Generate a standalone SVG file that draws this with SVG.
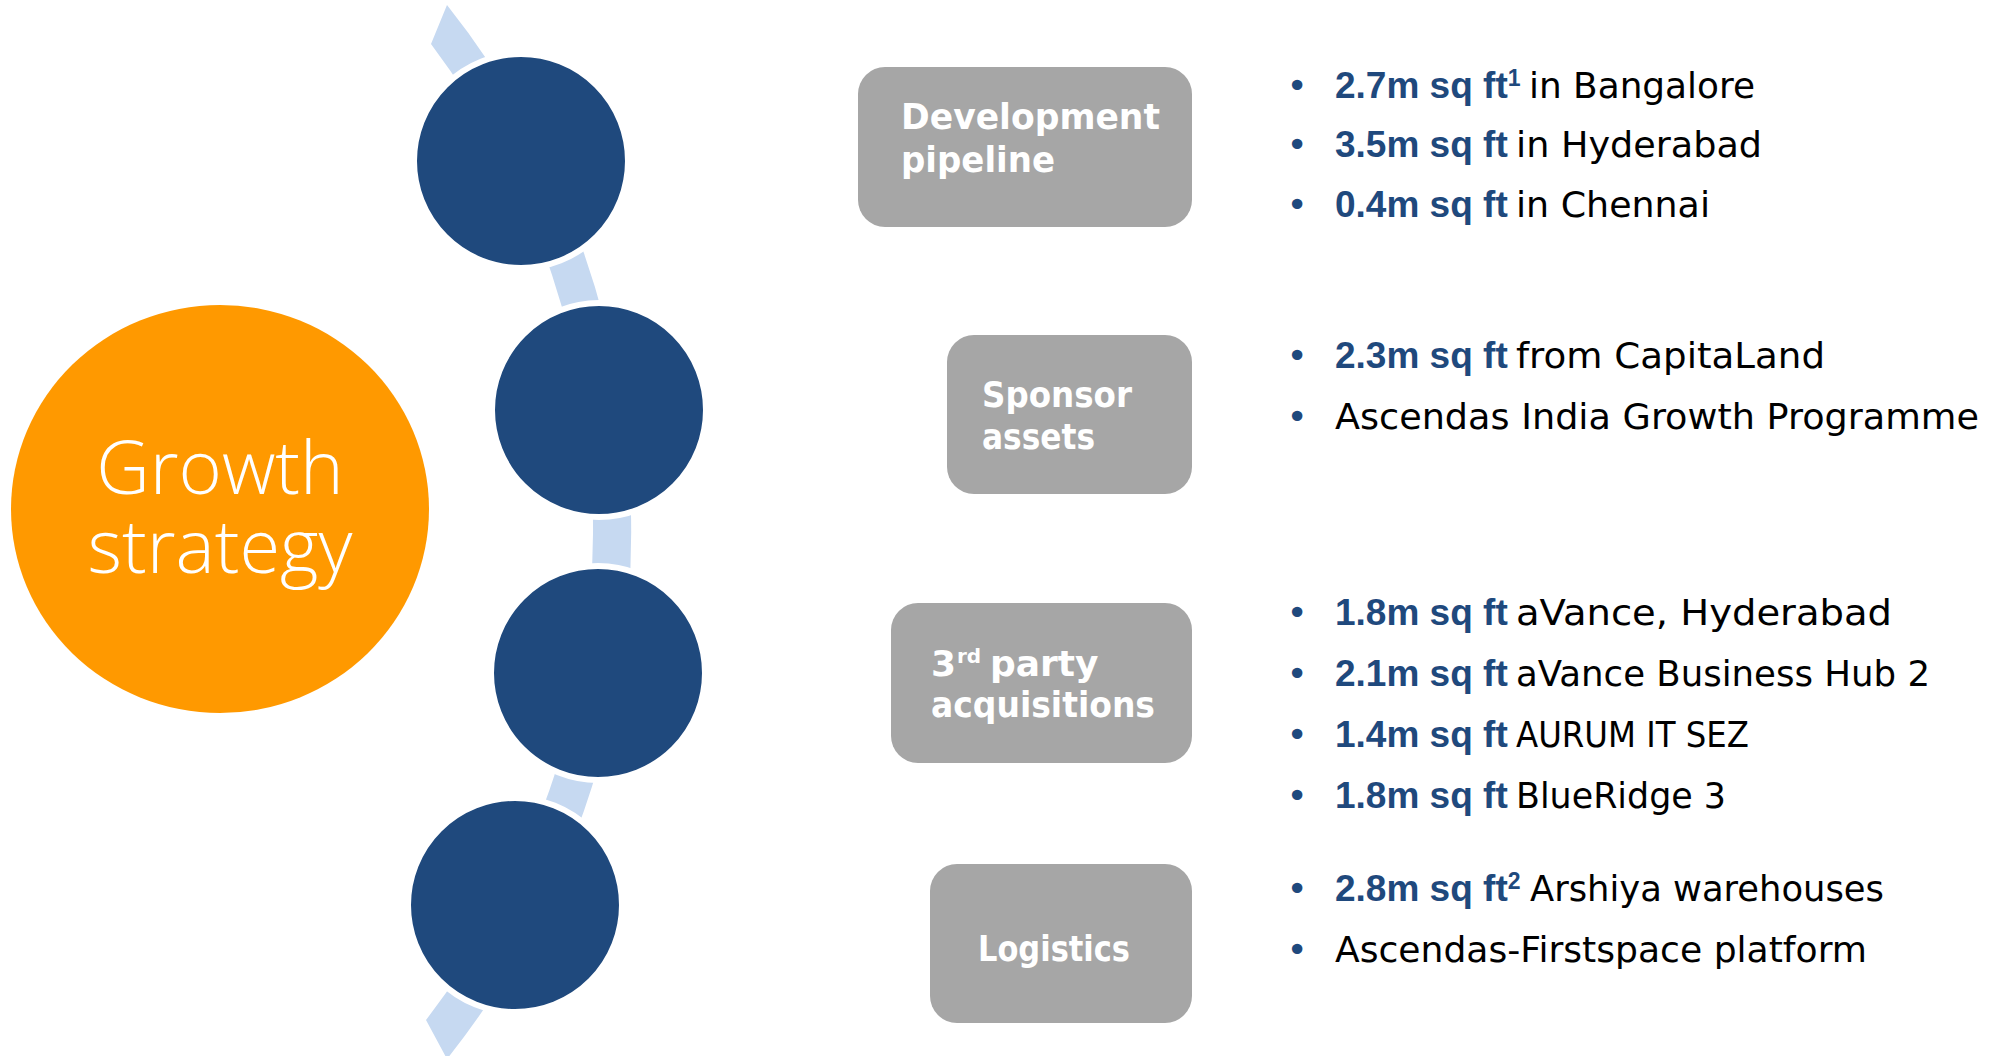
<svg xmlns="http://www.w3.org/2000/svg" width="1993" height="1056" viewBox="0 0 1993 1056">
<style>
.circ{fill:#1F497D;stroke:#FFFFFF;stroke-width:6}
.box{fill:#A6A6A6}
.lbl{font-family:"DejaVu Sans","Liberation Sans",sans-serif;font-weight:bold;font-size:36px;fill:#FFFFFF}
.txt{font-family:"DejaVu Sans","Liberation Sans",sans-serif;font-size:36px;fill:#000000}
.b{font-family:"Liberation Sans",Arial,sans-serif;font-weight:bold;font-size:37px;fill:#1F497D}
.dot{font-family:"DejaVu Sans",sans-serif;font-size:36px;fill:#1F497D}
.big{font-family:"Open Sans","DejaVu Sans",sans-serif;font-weight:300;font-size:74px;fill:#FFFFFF}
</style>
<rect width="1993" height="1056" fill="#FFFFFF"/>
<g id="connectors">
<path d="M447,5 A846,846 0 0 1 447,1059 L426,1020 A806,806 0 0 0 431,44 Z" fill="#C6D9F1"/>
</g>
<g id="growth">
<ellipse cx="220" cy="509" rx="209" ry="204" fill="#FF9900"/>
<text class="big" text-anchor="middle" x="220" y="494">Growth<tspan x="220" dy="79">strategy</tspan></text>
</g>
<g id="circle1"><circle class="circ" cx="521" cy="161" r="107"/></g>
<g id="circle2"><circle class="circ" cx="599" cy="410" r="107"/></g>
<g id="circle3"><circle class="circ" cx="598" cy="673" r="107"/></g>
<g id="circle4"><circle class="circ" cx="515" cy="905" r="107"/></g>

<g id="box1">
<rect class="box" x="858" y="67" width="334" height="160" rx="27"/>
<text class="lbl" x="901" y="129" textLength="259" lengthAdjust="spacingAndGlyphs">Development</text>
<text class="lbl" x="901" y="172" textLength="154" lengthAdjust="spacingAndGlyphs">pipeline</text>
</g>
<g id="box2">
<rect class="box" x="947" y="335" width="245" height="159" rx="27"/>
<text class="lbl" x="982" y="407" textLength="150" lengthAdjust="spacingAndGlyphs">Sponsor</text>
<text class="lbl" x="982" y="449" textLength="113" lengthAdjust="spacingAndGlyphs">assets</text>
</g>
<g id="box3">
<rect class="box" x="891" y="603" width="301" height="160" rx="27"/>
<text class="lbl" x="931" y="676">3<tspan x="957" dy="-13" font-size="20">rd</tspan><tspan x="990" dy="13">party</tspan></text>
<text class="lbl" x="931" y="717" textLength="224" lengthAdjust="spacingAndGlyphs">acquisitions</text>
</g>
<g id="box4">
<rect class="box" x="930" y="864" width="262" height="159" rx="27"/>
<text class="lbl" x="978" y="961" textLength="152" lengthAdjust="spacingAndGlyphs">Logistics</text>
</g>

<g id="list1">
<text class="dot" x="1297" y="98" text-anchor="middle">•</text>
<text class="b" x="1335" y="98">2.7m sq ft<tspan font-size="23" dy="-12">1</tspan></text>
<text class="txt" x="1529" y="98" textLength="226" lengthAdjust="spacingAndGlyphs">in Bangalore</text>
<text class="dot" x="1297" y="157" text-anchor="middle">•</text>
<text class="b" x="1335" y="157">3.5m sq ft</text>
<text class="txt" x="1516" y="157" textLength="246" lengthAdjust="spacingAndGlyphs">in Hyderabad</text>
<text class="dot" x="1297" y="217" text-anchor="middle">•</text>
<text class="b" x="1335" y="217">0.4m sq ft</text>
<text class="txt" x="1516" y="217" textLength="194" lengthAdjust="spacingAndGlyphs">in Chennai</text>
</g>
<g id="list2">
<text class="dot" x="1297" y="368" text-anchor="middle">•</text>
<text class="b" x="1335" y="368">2.3m sq ft</text>
<text class="txt" x="1516" y="368" textLength="309" lengthAdjust="spacingAndGlyphs">from CapitaLand</text>
<text class="dot" x="1297" y="429" text-anchor="middle">•</text>
<text class="txt" x="1335" y="429" textLength="644" lengthAdjust="spacingAndGlyphs">Ascendas India Growth Programme</text>
</g>
<g id="list3">
<text class="dot" x="1297" y="625" text-anchor="middle">•</text>
<text class="b" x="1335" y="625">1.8m sq ft</text>
<text class="txt" x="1516" y="625" textLength="376" lengthAdjust="spacingAndGlyphs">aVance, Hyderabad</text>
<text class="dot" x="1297" y="686" text-anchor="middle">•</text>
<text class="b" x="1335" y="686">2.1m sq ft</text>
<text class="txt" x="1516" y="686" textLength="414" lengthAdjust="spacingAndGlyphs">aVance Business Hub 2</text>
<text class="dot" x="1297" y="747" text-anchor="middle">•</text>
<text class="b" x="1335" y="747">1.4m sq ft</text>
<text class="txt" x="1516" y="747" textLength="233" lengthAdjust="spacingAndGlyphs">AURUM IT SEZ</text>
<text class="dot" x="1297" y="808" text-anchor="middle">•</text>
<text class="b" x="1335" y="808">1.8m sq ft</text>
<text class="txt" x="1516" y="808" textLength="210" lengthAdjust="spacingAndGlyphs">BlueRidge 3</text>
</g>
<g id="list4">
<text class="dot" x="1297" y="901" text-anchor="middle">•</text>
<text class="b" x="1335" y="901">2.8m sq ft<tspan font-size="23" dy="-12">2</tspan></text>
<text class="txt" x="1530" y="901" textLength="354" lengthAdjust="spacingAndGlyphs">Arshiya warehouses</text>
<text class="dot" x="1297" y="962" text-anchor="middle">•</text>
<text class="txt" x="1335" y="962" textLength="532" lengthAdjust="spacingAndGlyphs">Ascendas-Firstspace platform</text>
</g>
</svg>
